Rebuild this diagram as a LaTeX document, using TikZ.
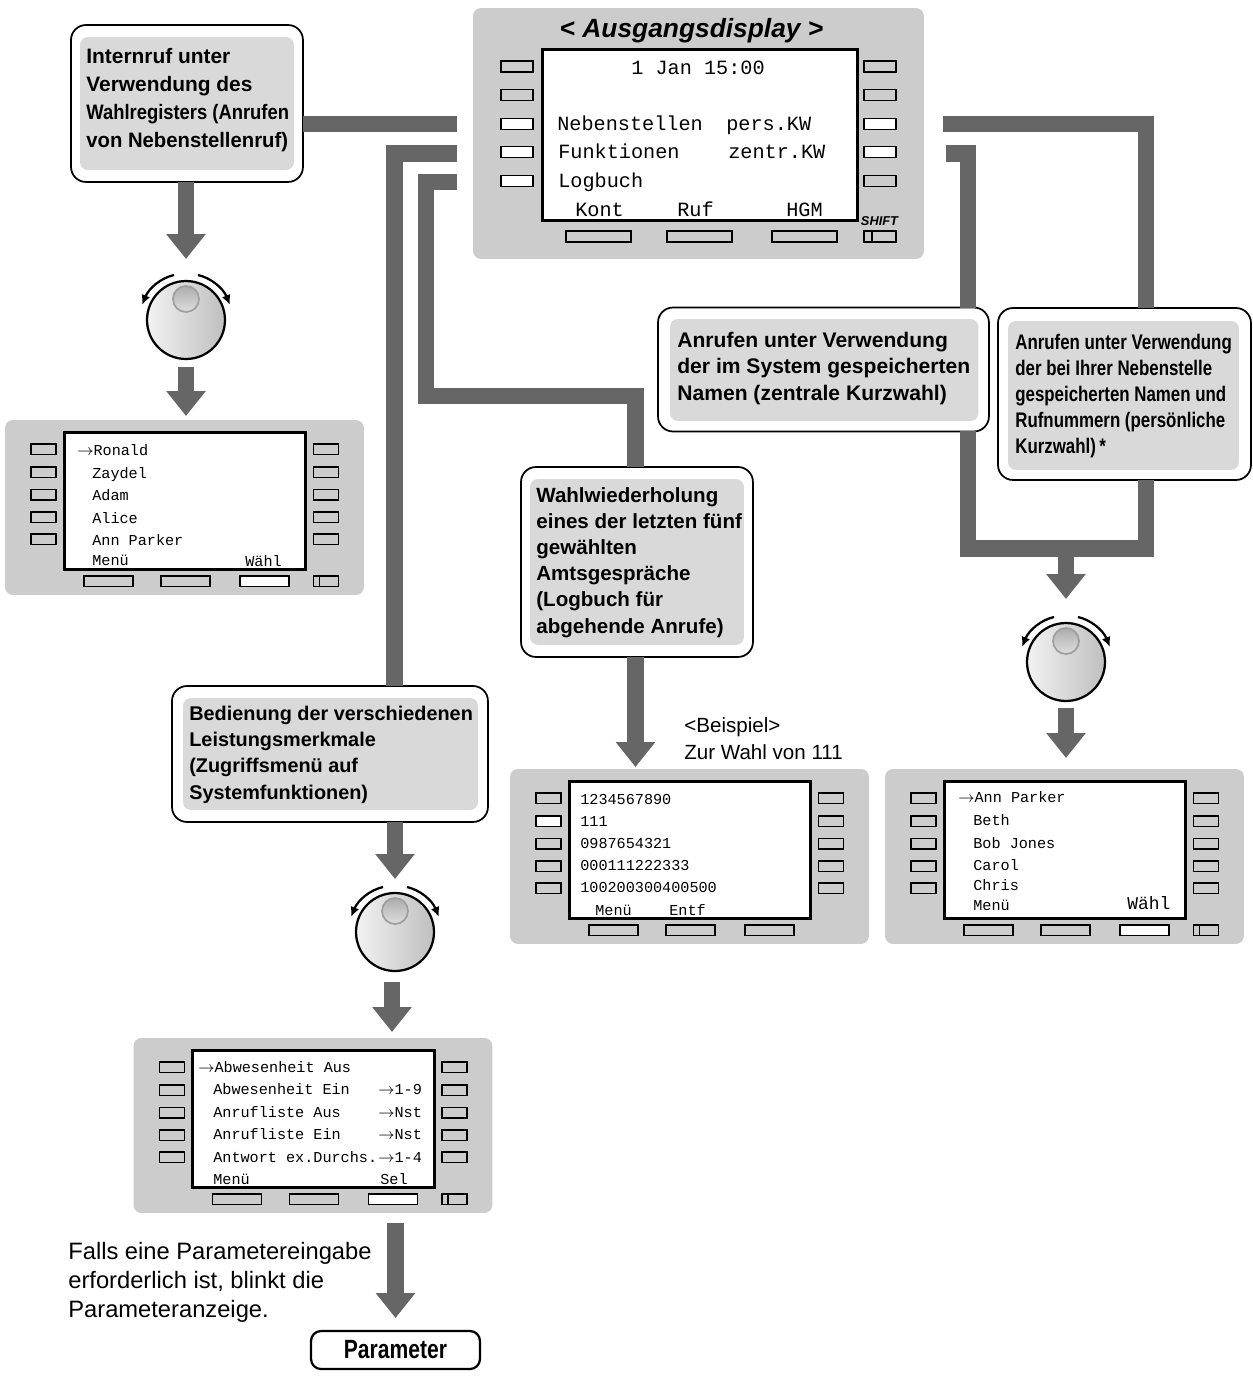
\documentclass[tikz,border=0pt]{standalone}
\usepackage{fontspec}
\setmainfont{Liberation Sans}
\setmonofont{Liberation Mono}
\newfontfamily\slimsans[FakeStretch=0.80]{Liberation Sans}
\newfontfamily\midsans[FakeStretch=0.88]{Liberation Sans}
\newfontfamily\nearsans[FakeStretch=0.97]{Liberation Sans}
\usetikzlibrary{arrows.meta,positioning}
\definecolor{panelgray}{HTML}{CCCCCC}
\definecolor{calloutgray}{HTML}{D9D9D9}
\definecolor{flowgray}{HTML}{666666}

\begin{document}
\begin{tikzpicture}[x=0.02cm, y=-0.02cm]
      % Define block styles
      \tikzstyle{panelbase} = [rectangle, fill=panelgray, rounded corners=0.16cm, inner sep=0, outer sep=0, anchor=north west]
      \tikzstyle{lcdscreen} = [rectangle, draw, fill=white, line width=0.06cm, inner sep=0, outer sep=0, anchor=north west]
      \tikzstyle{softkey} = [rectangle, draw, fill=panelgray, line width=0.03cm, inner sep=0, outer sep=0, minimum width=0.5cm, minimum height=0.21cm]
      \tikzstyle{softwide} = [softkey, minimum width=0.98cm]
      \tikzstyle{softside} = [softkey, minimum width=0.64cm, minimum height=0.22cm]
      \tikzstyle{softlong} = [softkey, minimum width=1.3cm, minimum height=0.22cm]
      \tikzstyle{callout} = [rectangle, draw, fill=white, line width=0.035cm, rounded corners=0.3cm, inner sep=0, outer sep=0, anchor=north west]
      \tikzstyle{calloutbg} = [rectangle, fill=calloutgray, rounded corners=0.16cm, inner sep=0, outer sep=0, anchor=north west]
      \tikzstyle{calltext} = [inner sep=0, align=left, anchor=north west]
      \tikzstyle{lcdtext} = [inner sep=0, anchor=base west, font=\ttfamily\fontsize{8.63}{10}\selectfont]
      \tikzstyle{lcdbig} = [inner sep=0, anchor=base west, font=\ttfamily\fontsize{11.5}{13}\selectfont]
      \tikzstyle{flowline} = [draw=flowgray, line width=0.33cm]
      \tikzstyle{fatarrow} = [draw=flowgray, line width=0.33cm, -{Triangle[width=0.76cm,length=0.5cm,fill=flowgray]}]
      \tikzset{
        dial/.pic={
          \node[circle, draw, line width=0.045cm, minimum size=1.56cm, inner sep=0, outer sep=0, left color=gray!10, right color=gray!50] (-body) at (0,0) {};
          \node[circle, draw=gray!75, line width=0.035cm, minimum size=0.52cm, inner sep=0, outer sep=0, top color=gray!65, bottom color=gray!25] (-cap) at (0,-21) {};
          \draw[line width=0.045cm, -{Latex[length=0.2cm,width=0.18cm]}] (-12,-45) .. controls (-25,-42) and (-37,-32) .. (-44,-15);
          \draw[line width=0.045cm, -{Latex[length=0.2cm,width=0.18cm]}] (12,-45) .. controls (25,-42) and (37,-32) .. (44,-15);
        },
        lcdpanel/.pic={
          \node[panelbase, minimum width=7.18cm, minimum height=3.5cm] (-base) at (0,0) {};
          \node[lcdscreen, minimum width=4.84cm, minimum height=2.76cm] (-screen) at (59,12) {};
          \foreach \row/\ky in {1/29, 2/52, 3/74.5, 4/97, 5/119} {
            \node[softkey] (-l\row) at (38.5,\ky) {};
            \node[softkey] (-r\row) at (321,\ky) {};
          }
          \foreach \col/\kx in {1/103.5, 2/180.5, 3/259.5}
            \node[softwide] (-b\col) at (\kx,161) {};
        },
        shiftkey/.pic={
          \node[softkey] (-key) at (0,0) {};
          \draw[line width=0.03cm] ([xshift=0.12cm]-key.north west) -- ([xshift=0.12cm]-key.south west);
        }
      }

      \useasboundingbox (0,0) rectangle (1253,1379);

      % Line ends
      \coordinate (tapA) at (457,124);
      \coordinate (tapB) at (457,153.5);
      \coordinate (tapC) at (457,182);
      \coordinate (tapD) at (943,124);
      \coordinate (tapE) at (946,153.5);
      \coordinate (legB) at (394.5,153.5);
      \coordinate (turnC) at (426,396);
      \coordinate (legC) at (635.5,396);
      \coordinate (legD) at (1146,124);
      \coordinate (legE) at (968,153.5);
      \coordinate (merge) at (1066,548.5);

      % Place blocks
      \node[panelbase, minimum width=9.02cm, minimum height=5.02cm] (startpanel) at (473,8) {};
      \node[lcdscreen, minimum width=6.32cm, minimum height=3.44cm] (startscreen) at (542,49) {};
      \node[inner sep=0, anchor=base, font=\bfseries\itshape\fontsize{15}{18}\selectfont] (starttitle) at (691.5,37) {< Ausgangsdisplay >};
      \foreach \row/\ky/\kl/\kr in {1/66.5/panelgray/panelgray, 2/95/panelgray/panelgray, 3/124/white/white, 4/152/white/white, 5/181/white/panelgray} {
        \node[softside, fill=\kl] (startl\row) at (517,\ky) {};
        \node[softside, fill=\kr] (startr\row) at (880,\ky) {};
      }
      \foreach \col/\kx in {1/598.5, 2/699.5, 3/804.5}
        \node[softlong] (startb\col) at (\kx,236.5) {};
      \node[softside] (startshift) at (880,236.5) {};
      \draw[line width=0.03cm] ([xshift=0.16cm]startshift.north west) -- ([xshift=0.16cm]startshift.south west);
      \node[inner sep=0, anchor=base, font=\bfseries\itshape\fontsize{7.3}{9}\selectfont] (shiftlabel) at (879.5,225.5) {SHIFT};
      \node[lcdbig] (clock) at (631,74) {1 Jan 15:00};
      \node[lcdbig] (nebentext) at (557,130.5) {Nebenstellen};
      \node[lcdbig] (perstext) at (726,130.5) {pers.KW};
      \node[lcdbig] (funktext) at (558,158.5) {Funktionen};
      \node[lcdbig] (zentrtext) at (728,158.5) {zentr.KW};
      \node[lcdbig] (logtext) at (558,187) {Logbuch};
      \node[lcdbig] (konttext) at (575,216.5) {Kont};
      \node[lcdbig] (ruftext) at (677,216) {Ruf};
      \node[lcdbig] (hgmtext) at (786,216) {HGM};

      \node[callout, minimum width=4.64cm, minimum height=3.14cm] (intern) at (71,25) {};
      \node[calloutbg, minimum width=4.28cm, minimum height=2.66cm] (internbg) at (80,37) {};
      \node[calltext, font=\bfseries\fontsize{11.9}{15.9}\selectfont] (interntext) at (86,48) {Internruf unter\\Verwendung des\\{\midsans Wahlregisters (Anrufen}\\{\nearsans von Nebenstellenruf)}};

      \node[callout, minimum width=6.62cm, minimum height=2.48cm] (zentral) at (658,307.5) {};
      \node[calloutbg, minimum width=6.17cm, minimum height=2.04cm] (zentralbg) at (670,319) {};
      \node[calltext, font=\bfseries\fontsize{12}{15.1}\selectfont] (zentraltext) at (677,331.6) {Anrufen unter Verwendung\\der im System gespeicherten\\Namen (zentrale Kurzwahl)};

      \node[callout, minimum width=5.06cm, minimum height=3.44cm] (personal) at (998,308) {};
      \node[calloutbg, minimum width=4.62cm, minimum height=2.98cm] (personalbg) at (1008,321) {};
      \node[calltext, font=\bfseries\slimsans\fontsize{12}{14.8}\selectfont] (personaltext) at (1015,333.6) {Anrufen unter Verwendung\\der bei Ihrer Nebenstelle\\gespeicherten Namen und\\Rufnummern (persönliche\\Kurzwahl)\,*};

      \node[callout, minimum width=4.64cm, minimum height=3.8cm] (redial) at (521,467) {};
      \node[calloutbg, minimum width=4.28cm, minimum height=3.32cm] (redialbg) at (530,479) {};
      \node[calltext, font=\bfseries\fontsize{11.7}{14.9}\selectfont] (redialtext) at (536,487) {Wahlwiederholung\\eines der letzten fünf\\gewählten\\Amtsgespräche\\(Logbuch für\\abgehende Anrufe)};

      \node[callout, minimum width=6.32cm, minimum height=2.72cm] (leistung) at (172,686) {};
      \node[calloutbg, minimum width=5.9cm, minimum height=2.24cm] (leistungbg) at (183,698) {};
      \node[calltext, font=\bfseries\fontsize{11.3}{15}\selectfont] (leistungtext) at (189,705.5) {Bedienung der verschiedenen\\Leistungsmerkmale\\(Zugriffsmenü auf\\Systemfunktionen)};

      \pic (knobA) at (186,320) {dial};
      \pic (knobC) at (1066,662) {dial};
      \pic (knobD) at (395,932) {dial};

      \pic (panelA) at (5,420) {lcdpanel};
      \pic (panelB) at (510,769) {lcdpanel};
      \pic (panelC) at (885,769) {lcdpanel};
      \pic (panelD) at (133.5,1038) {lcdpanel};
      \pic (shiftA) at (326,581) {shiftkey};
      \pic (shiftC) at (1206,930) {shiftkey};
      \pic (shiftD) at (454.5,1199) {shiftkey};
      \node[softwide, fill=white] (selectA) at (panelA-b3) {};
      \node[softkey, fill=white] (selectB) at (panelB-l2) {};
      \node[softwide, fill=white] (selectC) at (panelC-b3) {};
      \node[softwide, fill=white] (selectD) at (panelD-b3) {};

      \node[lcdtext] (nameA1) at (77,455) {$\rightarrow$Ronald};
      \node[lcdtext] (nameA2) at (92,478) {Zaydel};
      \node[lcdtext] (nameA3) at (92,500) {Adam};
      \node[lcdtext] (nameA4) at (92,523) {Alice};
      \node[lcdtext] (nameA5) at (92,545.5) {Ann Parker};
      \node[lcdtext] (menuA) at (92,565.5) {Menü};
      \node[lcdtext] (waehlA) at (245,566) {Wähl};

      \node[lcdtext] (nameB1) at (580,804) {1234567890};
      \node[lcdtext] (nameB2) at (580,826) {111};
      \node[lcdtext] (nameB3) at (580,848) {0987654321};
      \node[lcdtext] (nameB4) at (580,870) {000111222333};
      \node[lcdtext] (nameB5) at (580,892) {100200300400500};
      \node[lcdtext] (menuB) at (595,915) {Menü};
      \node[lcdtext] (entfB) at (669,915) {Entf};

      \node[lcdtext] (nameC1) at (958,802) {$\rightarrow$Ann Parker};
      \node[lcdtext] (nameC2) at (973,825) {Beth};
      \node[lcdtext] (nameC3) at (973,848) {Bob Jones};
      \node[lcdtext] (nameC4) at (973,870) {Carol};
      \node[lcdtext] (nameC5) at (973,890) {Chris};
      \node[lcdtext] (menuC) at (973,910) {Menü};
      \node[lcdtext, font=\ttfamily\fontsize{10.2}{12}\selectfont] (waehlC) at (1127,909) {Wähl};

      \node[lcdtext] (nameD1) at (198,1072.5) {$\rightarrow$Abwesenheit Aus};
      \node[lcdtext] (nameD2) at (213,1094.5) {Abwesenheit Ein};
      \node[lcdtext] (nameD3) at (213,1117) {Anrufliste Aus};
      \node[lcdtext] (nameD4) at (213,1139) {Anrufliste Ein};
      \node[lcdtext] (nameD5) at (213,1162) {Antwort ex.Durchs.};
      \node[lcdtext] (menuD) at (213,1184) {Menü};
      \node[lcdtext] (paramD2) at (378,1094.5) {$\rightarrow$1-9};
      \node[lcdtext] (paramD3) at (378,1117) {$\rightarrow$Nst};
      \node[lcdtext] (paramD4) at (378,1139) {$\rightarrow$Nst};
      \node[lcdtext] (paramD5) at (378,1162) {$\rightarrow$1-4};
      \node[lcdtext] (selD) at (380,1184) {Sel};

      \node[calltext, font=\fontsize{11.7}{15.4}\selectfont] (examplenote) at (684,717) {<Beispiel>\\Zur Wahl von 111};
      \node[calltext, font=\fontsize{13.5}{16.5}\selectfont] (paramnote) at (68,1242) {Falls eine Parametereingabe\\erforderlich ist, blinkt die\\Parameteranzeige.};
      \node[rectangle, draw, line width=0.045cm, rounded corners=0.2cm, inner sep=0, outer sep=0, minimum width=3.38cm, minimum height=0.76cm, font=\bfseries\slimsans\fontsize{15}{18}\selectfont] (parambox) at (395.5,1350) {Parameter};

      % Draw lines
      \path[flowline] (tapA) -- (tapA -| intern.east);
      \path[flowline] (tapB) -- (legB) -- (legB |- leistung.north);
      \path[flowline] (tapC) -| (turnC) -- (legC) -- (legC |- redial.north);
      \path[flowline] (tapD) -- (legD) -- (legD |- personal.north);
      \path[flowline] (tapE) -- (legE) -- (legE |- zentral.north);
      \path[flowline] (legE |- zentral.south) |- (legD |- merge) -- (legD |- personal.south);

      \path[fatarrow, shorten >=0.44cm] (knobA-body.north |- intern.south) -- (knobA-body.north);
      \path[fatarrow, shorten <=0.16cm, shorten >=0.08cm] (knobA-body.south) -- (knobA-body.south |- panelA-base.north);
      \path[fatarrow, shorten >=0.04cm] (legC |- redial.south) -- (legC |- panelB-base.north);
      \path[fatarrow, shorten >=0.48cm] (merge) -- (knobC-body.north);
      \path[fatarrow, shorten <=0.14cm, shorten >=0.22cm] (knobC-body.south) -- (knobC-body.south |- panelC-base.north);
      \path[fatarrow, shorten >=0.28cm] (knobD-body.north |- leistung.south) -- (knobD-body.north);
      \path[fatarrow, shorten <=0.22cm, shorten >=0.12cm] ([xshift=-0.06cm]knobD-body.south) -- ([xshift=-0.06cm]knobD-body.south |- panelD-base.north);
      \path[fatarrow, shorten <=0.2cm, shorten >=0.26cm] (parambox.north |- panelD-base.south) -- (parambox.north);
    \end{tikzpicture}
\end{document}
